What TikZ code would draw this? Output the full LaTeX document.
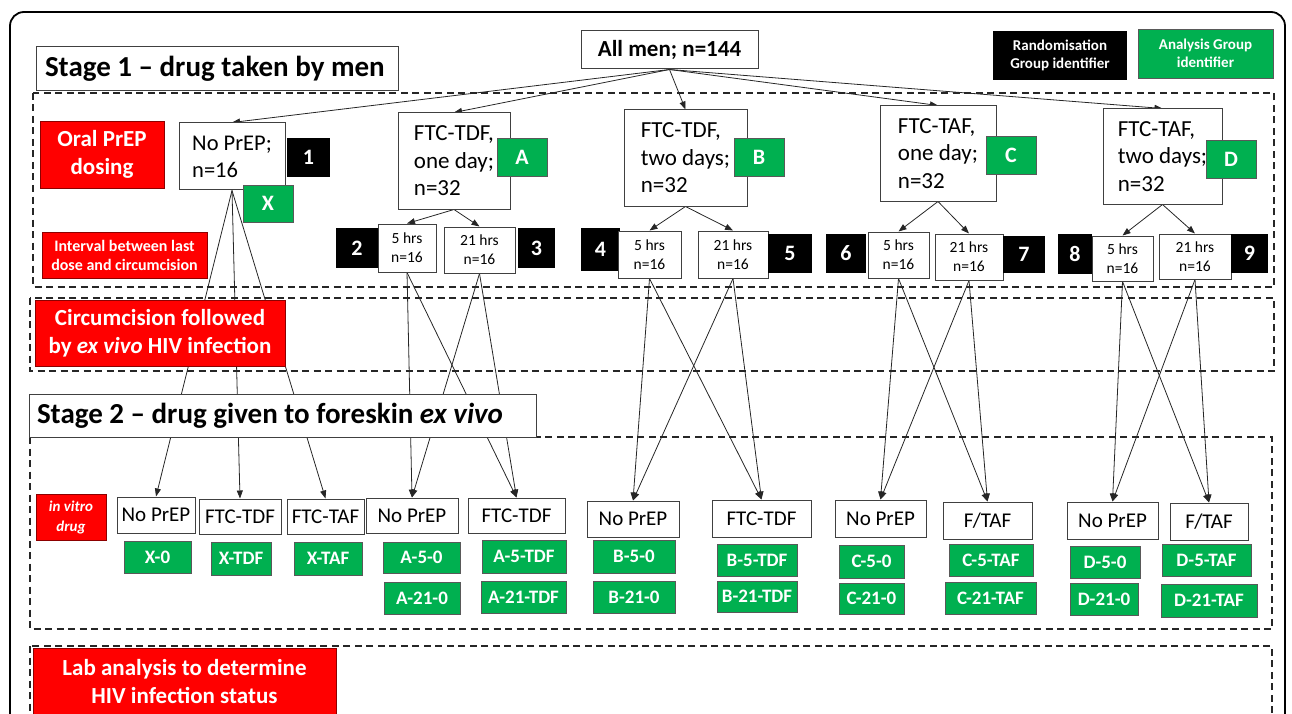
\documentclass[tikz,border=0pt]{standalone}
\usepackage{fontspec}
\setmainfont{Carlito}
\usetikzlibrary{arrows.meta}
\definecolor{gr}{HTML}{00B050}
\definecolor{rd}{HTML}{FF0000}
\pgfdeclarelayer{bg}
\pgfsetlayers{bg,main}
\newcommand{\myfs}[2]{\fontsize{#1}{#2}\selectfont}
\newcommand{\mybox}[7]{\node[#2, minimum width={#5-#3}, minimum height={#6-#4}] (#1) at ({(#3+#5)/2},{(#4+#6)/2}) {#7};}
\begin{document}
\begin{tikzpicture}[x=1pt,y=-1pt,
  wbox/.style={draw=black!75,fill=white,line width=1pt,inner sep=0pt,align=center},
  tbox/.style={wbox,font=\myfs{23}{27.5}},
  hbox/.style={wbox,font=\myfs{15.5}{19}},
  sbox/.style={wbox,font=\myfs{21}{24}},
  blk/.style={fill=black,inner sep=0pt,text=white,font=\bfseries\myfs{22}{26},align=center},
  grn/.style={fill=gr,draw=black!65,line width=0.8pt,inner sep=0pt,text=white,font=\bfseries\myfs{22}{26},align=center},
  glab/.style={grn,font=\bfseries\myfs{19}{22}},
  redb/.style={fill=rd,draw=red!55!black,line width=0.6pt,inner sep=0pt,text=white,font=\bfseries\myfs{23}{28},align=center},
  dsh/.style={draw=black!85,line width=1.8pt,dash pattern=on 7pt off 4.5pt},
  arr/.style={draw=black!85,line width=0.8pt,-{Triangle[length=8pt,width=6pt]}},
  ln/.style={draw=black!85,line width=0.8pt}
]
\useasboundingbox (0,0) rectangle (1292,714);
\clip (0,0) rectangle (1292,714);

% titles
\mybox{s1}{wbox,font=\bfseries\myfs{29}{33}}{36}{47}{398}{91}{\makebox[344pt][l]{Stage 1 -- drug taken by men}}
\mybox{allmen}{wbox,font=\bfseries\myfs{23}{27}}{581}{31}{758}{69}{All men; n=144}
\mybox{leg1}{blk,font=\bfseries\myfs{15}{18}}{993}{31}{1127}{80}{Randomisation\\Group identifier}
\mybox{leg2}{grn,font=\bfseries\myfs{15}{18}}{1138}{29}{1273}{78}{Analysis Group\\identifier}

% red labels
\mybox{oral}{redb}{40}{121}{164}{188}{Oral PrEP\\dosing}
\mybox{interval}{redb,font=\bfseries\myfs{16}{19}}{42}{232}{207}{278}{Interval between last\\dose and circumcision}
\mybox{circ}{redb}{35}{300}{285}{366}{Circumcision followed\\by \textit{ex vivo} HIV infection}
\mybox{s2}{wbox,font=\bfseries\myfs{29}{33}}{29}{394}{536}{437}{\makebox[491pt][l]{Stage 2 -- drug given to foreskin \textit{ex vivo}}}
\mybox{invitro}{redb,font=\bfseries\itshape\myfs{15}{20}}{36}{494}{106}{540}{in vitro\\drug}
\mybox{lab}{redb}{33}{648}{336}{716}{Lab analysis to determine\\HIV infection status}

% stage 1 boxes
\mybox{nop}{tbox,align=left,font=\myfs{22.5}{27}}{179}{123}{285}{190}{No PrEP;\\n=16}
\mybox{b1}{blk}{287}{138}{330}{177}{1}
\mybox{gX}{grn}{243}{185}{293}{222}{X}
\mybox{ftd1}{tbox,align=left}{398}{113}{510}{209}{FTC-TDF,\\one day;\\n=32}
\mybox{gA}{grn}{497}{138}{547}{176}{A}
\mybox{ftd2}{tbox,align=left}{624}{110}{747}{206}{FTC-TDF,\\two days;\\n=32}
\mybox{gB}{grn}{734}{138}{784}{176}{B}
\mybox{fta1}{tbox,align=left}{880}{106}{996}{201}{FTC-TAF,\\one day;\\n=32}
\mybox{gC}{grn}{986}{136}{1036}{174}{C}
\mybox{fta2}{tbox,align=left}{1103}{109}{1222}{204}{FTC-TAF,\\two days;\\n=32}
\mybox{gD}{grn}{1206}{140}{1256}{178}{D}

% hours row
\mybox{b2}{blk}{336}{228}{378}{268}{2}
\mybox{h5A}{hbox}{378}{224}{436}{272}{5 hrs\\n=16}
\mybox{h21A}{hbox}{444}{227}{515}{273}{21 hrs\\n=16}
\mybox{b3}{blk}{518}{228}{555}{268}{3}
\mybox{b4}{blk}{581}{228}{620}{271}{4}
\mybox{h5B}{hbox}{618}{231}{681}{278}{5 hrs\\n=16}
\mybox{h21B}{hbox}{698}{231}{768}{278}{21 hrs\\n=16}
\mybox{b5}{blk}{768}{234}{812}{273}{5}
\mybox{b6}{blk}{826}{234}{866}{273}{6}
\mybox{h5C}{hbox}{868}{232}{929}{278}{5 hrs\\n=16}
\mybox{h21C}{hbox}{935}{234}{1003}{280}{21 hrs\\n=16}
\mybox{b7}{blk}{1003}{236}{1045}{273}{7}
\mybox{b8}{blk}{1058}{234}{1092}{274}{8}
\mybox{h5D}{hbox}{1092}{236}{1153}{281}{5 hrs\\n=16}
\mybox{h21D}{hbox}{1159}{234}{1231}{279}{21 hrs\\n=16}
\mybox{b9}{blk}{1231}{234}{1268}{273}{9}

% stage 2 boxes
\mybox{nX0}{sbox}{117}{497}{195}{533}{No PrEP}
\mybox{nXT}{sbox}{199}{499}{281}{534}{FTC-TDF}
\mybox{nXA}{sbox}{287}{499}{364}{534}{FTC-TAF}
\mybox{nA0}{sbox}{366}{498}{458}{533}{No PrEP}
\mybox{nAT}{sbox}{468}{498}{565}{533}{FTC-TDF}
\mybox{nB0}{sbox}{587}{501}{679}{537}{No PrEP}
\mybox{nBT}{sbox}{712}{500}{811}{537}{FTC-TDF}
\mybox{nC0}{sbox}{835}{500}{926}{537}{No PrEP}
\mybox{nCA}{sbox}{943}{502}{1032}{539}{F/TAF}
\mybox{nD0}{sbox}{1067}{502}{1158}{539}{No PrEP}
\mybox{nDA}{sbox}{1170}{503}{1248}{540}{F/TAF}

% analysis group labels
\mybox{gX0}{glab}{124}{541}{191}{573}{X-0}
\mybox{gXT}{glab}{211}{542}{271}{575}{X-TDF}
\mybox{gXA}{glab}{294}{542}{362}{575}{X-TAF}
\mybox{gA50}{glab}{383}{542}{460}{573}{A-5-0}
\mybox{gA210}{glab}{384}{582}{460}{614}{A-21-0}
\mybox{gA5T}{glab}{482}{540}{566}{573}{A-5-TDF}
\mybox{gA21T}{glab}{481}{581}{566}{613}{A-21-TDF}
\mybox{gB50}{glab}{593}{540}{675}{573}{B-5-0}
\mybox{gB210}{glab}{593}{581}{675}{613}{B-21-0}
\mybox{gB5T}{glab}{717}{544}{797}{576}{B-5-TDF}
\mybox{gB21T}{glab}{717}{581}{797}{612}{B-21-TDF}
\mybox{gC50}{glab}{839}{545}{904}{578}{C-5-0}
\mybox{gC210}{glab}{839}{583}{904}{614}{C-21-0}
\mybox{gC5A}{glab}{949}{544}{1033}{576}{C-5-TAF}
\mybox{gC21A}{glab}{945}{582}{1036}{614}{C-21-TAF}
\mybox{gD50}{glab}{1070}{546}{1140}{578}{D-5-0}
\mybox{gD210}{glab}{1070}{583}{1138}{615}{D-21-0}
\mybox{gD5A}{glab}{1162}{544}{1251}{576}{D-5-TAF}
\mybox{gD21A}{glab}{1161}{584}{1257}{617}{D-21-TAF}

\begin{pgfonlayer}{bg}
  \draw[line width=1.8pt,rounded corners=14pt] (10,12) rectangle (1285,760);
  \draw[dsh] (33,93) rectangle (1274,287);
  \draw[dsh] (30,298) rectangle (1274,371);
  \draw[dsh] (30,437) rectangle (1272,629);
  \draw[dsh] (30,646) rectangle (1272,760);
  % stage 1 arrows
  \foreach \t in {nop,ftd1,ftd2,fta1,fta2} \draw[arr] (allmen.south) -- (\t.north);
  \draw[arr] (ftd1.south) -- (h5A.north);
  \draw[arr] (ftd1.south) -- (h21A.north);
  \draw[arr] (ftd2.south) -- (h5B.north);
  \draw[arr] (ftd2.south) -- (h21B.north);
  \draw[arr] (fta1.south) -- (h5C.north);
  \draw[arr] (fta1.south) -- (h21C.north);
  \draw[arr] (fta2.south) -- (h5D.north);
  \draw[arr] (fta2.south) -- (h21D.north);
  % to stage 2
  \draw[arr] (nop.south) -- (nX0.north);
  \draw[arr] (nop.south) -- (nXT.north);
  \draw[arr] (nop.south) -- (nXA.north);
  \foreach \s/\a/\b in {h5A/nA0/nAT,h21A/nA0/nAT,h5B/nB0/nBT,h21B/nB0/nBT,h5C/nC0/nCA,h21C/nC0/nCA,h5D/nD0/nDA,h21D/nD0/nDA}{
    \draw[arr] (\s.south) -- (\a.north);
    \draw[arr] (\s.south) -- (\b.north);
  }
\end{pgfonlayer}
\end{tikzpicture}
\end{document}
